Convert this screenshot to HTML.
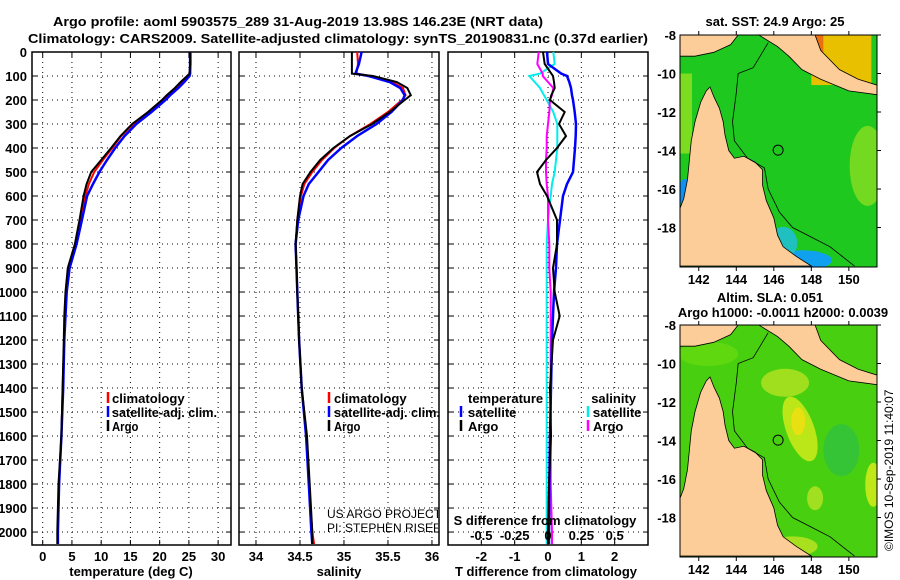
<!DOCTYPE html>
<html><head><meta charset="utf-8"><style>
body{margin:0;background:#fff}
svg{display:block;font-family:"Liberation Sans",sans-serif}
.b{font-weight:bold;font-size:13px}
</style></head><body>
<svg id="s" width="900" height="580" viewBox="0 0 900 580" xmlns="http://www.w3.org/2000/svg">
<text x="298" y="26" text-anchor="middle" class="b" font-size="14" textLength="490" lengthAdjust="spacingAndGlyphs">Argo profile: aoml 5903575_289 31-Aug-2019 13.98S 146.23E (NRT data)</text>
<text x="338" y="43" text-anchor="middle" class="b" font-size="14" textLength="620" lengthAdjust="spacingAndGlyphs">Climatology: CARS2009. Satellite-adjusted climatology: synTS_20190831.nc (0.37d earlier)</text>
<g id="plots"></g>
<g id="maps"></g>
<text transform="translate(893,551) rotate(-90)" font-size="12">©IMOS 10-Sep-2019 11:40:07</text>
</svg>
<script>
// ---- data ----
const depths=[0,50,90,100,125,150,180,200,250,300,350,400,450,500,550,600,700,800,900,1000,1100,1200,1400,1600,1800,2000,2050];
const tempArgo=[25.2,25.2,25.1,24.7,23.6,22.6,21.2,20.4,18,15.3,13.3,11.7,10,8.3,7.5,7.0,6.3,5.5,4.3,3.9,3.7,3.6,3.4,3.2,2.7,2.5,2.5];
const tempClim=[25.3,25.3,25.2,24.9,23.9,22.9,21.4,20.6,18.2,15.5,13.4,11.9,10.3,8.8,7.9,7.3,6.4,5.6,4.5,4.0,3.8,3.7,3.4,3.2,2.8,2.6,2.6];
const tempSat=[25.2,25.2,25.2,25.1,24.2,23.2,21.8,21.0,18.6,16.0,14.0,12.4,11.0,9.7,8.6,7.6,6.7,5.8,4.6,4.1,3.9,3.7,3.5,3.2,2.8,2.6,2.6];
const salArgo=[35.09,35.09,35.09,35.33,35.6,35.72,35.76,35.69,35.52,35.32,35.07,34.88,34.73,34.62,34.53,34.5,34.47,34.45,34.46,34.47,34.48,34.49,34.52,34.58,34.61,34.64,34.64];
const salClim=[35.15,35.16,35.14,35.3,35.55,35.67,35.7,35.66,35.5,35.3,35.07,34.89,34.75,34.64,34.55,34.51,34.47,34.45,34.46,34.47,34.48,34.49,34.52,34.57,34.6,34.64,34.66];
const salSat=[35.2,35.17,35.13,35.28,35.52,35.64,35.69,35.67,35.54,35.37,35.15,34.97,34.82,34.71,34.6,34.54,34.48,34.45,34.46,34.47,34.48,34.49,34.52,34.57,34.6,34.63,34.64];
const dTArgo=[-0.15,-0.1,0.1,0.15,0.18,0.2,0.1,0.06,0.5,0.33,0.54,0.27,-0.06,-0.33,-0.24,-0.03,0.27,0.27,0.15,0.2,0.35,0.15,0.06,0.09,0.03,0.0,0.0];
const dTSat=[-0.03,0.0,0.4,0.57,0.64,0.69,0.72,0.75,0.8,0.84,0.83,0.81,0.78,0.75,0.57,0.45,0.36,0.27,0.24,0.18,0.15,0.12,0.09,0.06,0.04,0.03,0.03];
const dSArgo=[-0.07,-0.08,-0.04,-0.04,0.0,0.04,0.03,0.015,0.01,0.0,-0.01,-0.01,-0.015,-0.015,-0.01,0.0,0.0,0.01,0.01,0.02,0.02,0.02,0.02,0.02,0.02,0.03,0.03];
const dSSat=[0.04,0.05,-0.06,-0.14,-0.1,-0.06,-0.03,-0.01,0.04,0.07,0.07,0.07,0.06,0.05,0.03,0.02,0.0,-0.01,-0.01,-0.01,-0.01,-0.01,-0.01,-0.01,-0.01,-0.01,-0.01];
const depthTicks=[0,100,200,300,400,500,600,700,800,900,1000,1100,1200,1300,1400,1500,1600,1700,1800,1900,2000];
const tempTicks=[0,5,10,15,20,25,30];
const salTicks=[34,34.5,35,35.5,36];
const salTickLabels=["34","34.5","35","35.5","36"];
const dTTicks=[-2,-1,0,1,2];
const dSTicks=[-0.5,-0.25,0,0.25,0.5];
const dSTickLabels=["-0.5","-0.25","0","0.25","0.5"];
const lonTicks=[142,144,146,148,150];
const latTicks=[-8,-10,-12,-14,-16,-18];
const argoPos=[146.23,-13.98];

const NS="http://www.w3.org/2000/svg";
const S=document.getElementById('s');
function mk(tag,attrs,parent,txt){const e=document.createElementNS(NS,tag);for(const k in attrs)e.setAttribute(k,attrs[k]);if(txt!==undefined)e.textContent=txt;(parent||S).appendChild(e);return e;}
const plots=document.getElementById('plots');
const Y0=52,Y1=545,DMAX=2054;
const yD=d=>Y0+(d/DMAX)*(Y1-Y0);
function lin(a,b,p,q){return v=>p+(v-a)/(b-a)*(q-p);}

// depth labels
depthTicks.forEach(d=>{const t=mk('text',{x:27,y:yD(d)+5,'text-anchor':'end',class:'b'},plots,String(d));

});

function panel(name,x0,x1,xmin,xmax,gridVals){
  const g=mk('g',{},plots);
  
  
  const xs=lin(xmin,xmax,x0,x1);
  gridVals.forEach(v=>{const l=mk('line',{x1:xs(v),x2:xs(v),y1:Y0,y2:Y1,stroke:'#000','stroke-width':1,'stroke-dasharray':'1,4'},g);
  
  
  mk('line',{x1:xs(v),x2:xs(v),y1:Y0,y2:Y0+5,stroke:'#000'},g);mk('line',{x1:xs(v),x2:xs(v),y1:Y1,y2:Y1-5,stroke:'#000'},g);});
  depthTicks.forEach(d=>{const l=mk('line',{x1:x0,x2:x1,y1:yD(d),y2:yD(d),stroke:'#000','stroke-width':1,'stroke-dasharray':'1,4'},g);
  
  
  mk('line',{x1:x0,x2:x0+5,y1:yD(d),y2:yD(d),stroke:'#000'},g);mk('line',{x1:x1,x2:x1-5,y1:yD(d),y2:yD(d),stroke:'#000'},g);});
  const r=mk('rect',{x:x0,y:Y0,width:x1-x0,height:Y1-Y0,fill:'none',stroke:'#000','stroke-width':1.5},g);
  
  
  return {g,xs};
}
function line(g,xs,vals,color,w,name){
  const pts=vals.map((v,i)=>xs(v).toFixed(1)+','+yD(depths[i]).toFixed(1)).join(' ');
  const p=mk('polyline',{points:pts,fill:'none',stroke:color,'stroke-width':w},g);
  
  
}
function txt(x,y,s,name,extra){const t=mk('text',Object.assign({x,y,class:'b'},extra||{}),plots,s);

return t;}
function legendMark(x,y,color,name){const l=mk('line',{x1:x,x2:x,y1:y-11,y2:y,stroke:color,'stroke-width':2.5},plots);

}

// panel 1 temperature
const p1=panel('temperature-panel',32,231,-1.83,32.2,tempTicks);
line(p1.g,p1.xs,tempClim,'#f00',2,'temp-climatology-line');
line(p1.g,p1.xs,tempSat,'#00f',2.5,'temp-satellite-line');
line(p1.g,p1.xs,tempArgo,'#000',2,'temp-argo-line');
tempTicks.forEach(v=>txt(p1.xs(v),561,String(v),'temp-tick-label',{'text-anchor':'middle'}));
txt(131,576,'temperature (deg C)','temp-axis-title',{'text-anchor':'middle'});
[['climatology','#f00'],['satellite-adj. clim.','#00f'],['Argo','#000']].forEach((e,i)=>{legendMark(108,403+i*14,e[1],'legend-marker');txt(112,403+i*14,e[0],'temp-legend-entry',{textLength:e[0].length>12?105:(e[0].length*6.6),lengthAdjust:'spacingAndGlyphs'});});

// panel 2 salinity
const p2=panel('salinity-panel',239,439,33.807,36.08,salTicks);
line(p2.g,p2.xs,salClim,'#f00',2,'sal-climatology-line');
line(p2.g,p2.xs,salSat,'#00f',2.5,'sal-satellite-line');
line(p2.g,p2.xs,salArgo,'#000',2,'sal-argo-line');
salTicks.forEach((v,i)=>txt(p2.xs(v),561,salTickLabels[i],'sal-tick-label',{'text-anchor':'middle'}));
txt(339,576,'salinity','sal-axis-title',{'text-anchor':'middle'});
[['climatology','#f00'],['satellite-adj. clim.','#00f'],['Argo','#000']].forEach((e,i)=>{legendMark(329,403+i*14,e[1],'legend-marker');txt(334,403+i*14,e[0],'sal-legend-entry',{textLength:e[0].length>12?106:(e[0].length*6.6),lengthAdjust:'spacingAndGlyphs'});});
const cg=mk('g',{'clip-path':'url(#c2)'},plots);
mk('clipPath',{id:'c2'},plots);document.getElementById('c2').appendChild(mk('rect',{x:239,y:52,width:199,height:493},document.getElementById('c2')));
const u1=mk('text',{x:327,y:518,'font-size':12},cg,'US ARGO PROJECT');


const u2=mk('text',{x:327,y:532,'font-size':12},cg,'PI: STEPHEN RISER');



// panel 3 differences
const p3=panel('difference-panel',448,648,-3,3,dTTicks);
const xsS=lin(-0.75,0.75,448,648);
line(p3.g,xsS,dSSat,'#0ee',2,'sal-diff-satellite-line');
line(p3.g,xsS,dSArgo,'#f0f',2,'sal-diff-argo-line');
line(p3.g,p3.xs,dTSat,'#00f',2.5,'temp-diff-satellite-line');
line(p3.g,p3.xs,dTArgo,'#000',2,'temp-diff-argo-line');
dTTicks.forEach(v=>txt(p3.xs(v),561,String(v),'temp-diff-tick-label',{'text-anchor':'middle'}));
dSTicks.forEach((v,i)=>txt(xsS(v),540,dSTickLabels[i],'sal-diff-tick-label',{'text-anchor':'middle'}));
txt(545,525,'S difference from climatology','sal-diff-axis-title',{'text-anchor':'middle'});
txt(546,576,'T difference from climatology','temp-diff-axis-title',{'text-anchor':'middle'});
txt(468,403,'temperature','diff-legend-temp-header');
txt(636,403,'salinity','diff-legend-sal-header',{'text-anchor':'end'});
legendMark(461,417,'#00f','legend-marker');txt(468,417,'satellite','diff-legend-entry');
legendMark(461,431,'#000','legend-marker');txt(468,431,'Argo','diff-legend-entry');
legendMark(588,417,'#0ee','legend-marker');txt(593,417,'satellite','diff-legend-entry');
legendMark(588,431,'#f0f','legend-marker');txt(593,431,'Argo','diff-legend-entry');

// ---- maps ----
const maps=document.getElementById('maps');
const cape=[[141,-17],[141.2,-16.5],[141.4,-15.5],[141.5,-14.5],[141.6,-13.5],[141.8,-12.5],[142.1,-11.5],[142.4,-10.9],[142.6,-10.7],[142.8,-11.2],[143.1,-11.8],[143.3,-12.5],[143.4,-13.2],[143.6,-14],[143.9,-14.4],[144.4,-14.3],[145,-14.6],[145.4,-15],[145.4,-15.8],[145.6,-16.6],[146,-17.5],[146.2,-18.4],[146.5,-19],[147.2,-19.5],[148,-20],[141,-20]];
const pngE=[[145.2,-8],[148.2,-8],[148.5,-8.8],[149.5,-9.8],[150.5,-10.3],[151.5,-10.6],[151.5,-11.1],[150,-10.9],[148.5,-10.3],[147.5,-9.8],[146.8,-9.1],[146.2,-8.6]];
const pngW=[[141,-8],[144.1,-8],[143.7,-8.5],[142.8,-8.9],[141.8,-9.1],[141,-9.1]];
const shelf=[[145.7,-8.4],[144.9,-9.7],[144.1,-10],[144,-11],[143.8,-12.5],[143.9,-13.5],[144.6,-14.4],[145.5,-14.9],[145.7,-16],[146.3,-17.2],[147,-18],[148,-18.5],[149,-19],[150.3,-20]];
function drawMap(id,top,bottom,variant,titles){
  const mx=lin(141,151.5,680,877), my=lin(-8,-20.05,top,bottom);
  const g=mk('g',{},maps);
  
  
  const cp=mk('clipPath',{id:id+'-clip'},g);mk('rect',{x:680,y:top,width:197,height:bottom-top},cp);
  const c=mk('g',{'clip-path':'url(#'+id+'-clip)'},g);
  const defs=mk('defs',{},g);
  if(variant===0){
    mk('rect',{x:680,y:top,width:197,height:bottom-top,fill:'#1ec81e'},c);
    mk('rect',{x:680,y:my(-10),width:12,height:80,fill:'#7cdc20'},c);
    mk('ellipse',{cx:mx(151),cy:my(-14.8),rx:18,ry:40,fill:'#88dd22',opacity:0.8},c);
    mk('rect',{x:mx(148),y:top,width:60,height:my(-10.6)-top,fill:'#e8c000'},c);
    mk('rect',{x:mx(148),y:top,width:12,height:22,fill:'#e87010'},c);
    mk('ellipse',{cx:mx(147.5),cy:my(-19.7),rx:30,ry:10,fill:'#10a0f0'},c);
    mk('ellipse',{cx:mx(146.5),cy:my(-18.8),rx:14,ry:16,fill:'#20c0c0'},c);
    mk('ellipse',{cx:mx(141.3),cy:my(-16.2),rx:8,ry:14,fill:'#1090f0'},c);
    mk('ellipse',{cx:mx(144.8),cy:my(-15.5),rx:8,ry:20,fill:'#20c0a0'},c);
  } else {
    mk('rect',{x:680,y:top,width:197,height:bottom-top,fill:'#48d010'},c);
    mk('ellipse',{cx:mx(146.6),cy:my(-11),rx:24,ry:14,fill:'#a8e020',opacity:0.9},c);
    mk('ellipse',{cx:mx(147.4),cy:my(-13.4),rx:14,ry:34,fill:'#c8e818',opacity:0.9,transform:'rotate(-20 '+mx(147.4)+' '+my(-13.4)+')'},c);
    mk('ellipse',{cx:mx(147.3),cy:my(-13),rx:7,ry:14,fill:'#e8e010'},c);
    mk('ellipse',{cx:mx(149.6),cy:my(-14.5),rx:18,ry:26,fill:'#30c040',opacity:0.8},c);
    mk('ellipse',{cx:mx(151.3),cy:my(-16.3),rx:8,ry:22,fill:'#c0e818'},c);
    mk('ellipse',{cx:mx(148.2),cy:my(-17),rx:8,ry:12,fill:'#a0e020'},c);
    mk('ellipse',{cx:mx(147),cy:my(-19.5),rx:25,ry:10,fill:'#a8e020'},c);
    mk('ellipse',{cx:mx(142.5),cy:my(-9.5),rx:30,ry:12,fill:'#60d810'},c);
  }
  [cape,pngE,pngW].forEach(poly=>{const p=mk('polygon',{points:poly.map(q=>mx(q[0])+','+my(q[1])).join(' '),fill:'#fccc99',stroke:'#000','stroke-width':0.8},c);
  
  });
  const sl=mk('polyline',{points:shelf.map(q=>mx(q[0])+','+my(q[1])).join(' '),fill:'none',stroke:'#000','stroke-width':0.8},c);
  
  
  const ci=mk('circle',{cx:mx(argoPos[0]),cy:my(argoPos[1]),r:5,fill:'none',stroke:'#000','stroke-width':1},c);
  
  
  mk('rect',{x:680,y:top,width:197,height:bottom-top,fill:'none',stroke:'#000','stroke-width':1},g);
  lonTicks.forEach(v=>{mk('line',{x1:mx(v),x2:mx(v),y1:top,y2:top-4,stroke:'#000'},g);mk('line',{x1:mx(v),x2:mx(v),y1:bottom,y2:bottom+4,stroke:'#000'},g);
  const t=mk('text',{x:mx(v),y:bottom+17,'text-anchor':'middle',class:'b'},g,String(v));
  
  });
  latTicks.forEach(v=>{mk('line',{x1:877,x2:881,y1:my(v),y2:my(v),stroke:'#000'},g);
  const t=mk('text',{x:676,y:my(v)+5,'text-anchor':'end',class:'b'},g,String(v));
  
  });
  titles.forEach((tt,i)=>{const t=mk('text',{x:tt[1],y:tt[2],'text-anchor':'middle',class:'b','font-size':12},g,tt[0]);
  
  });
}
drawMap('sst-map',35,267,0,[['sat. SST: 24.9 Argo: 25',775,26]]);
drawMap('sla-map',325,557,1,[['Altim. SLA: 0.051',770,302],['Argo h1000: -0.0011 h2000: 0.0039',783,317]]);
</script>
</body></html>
